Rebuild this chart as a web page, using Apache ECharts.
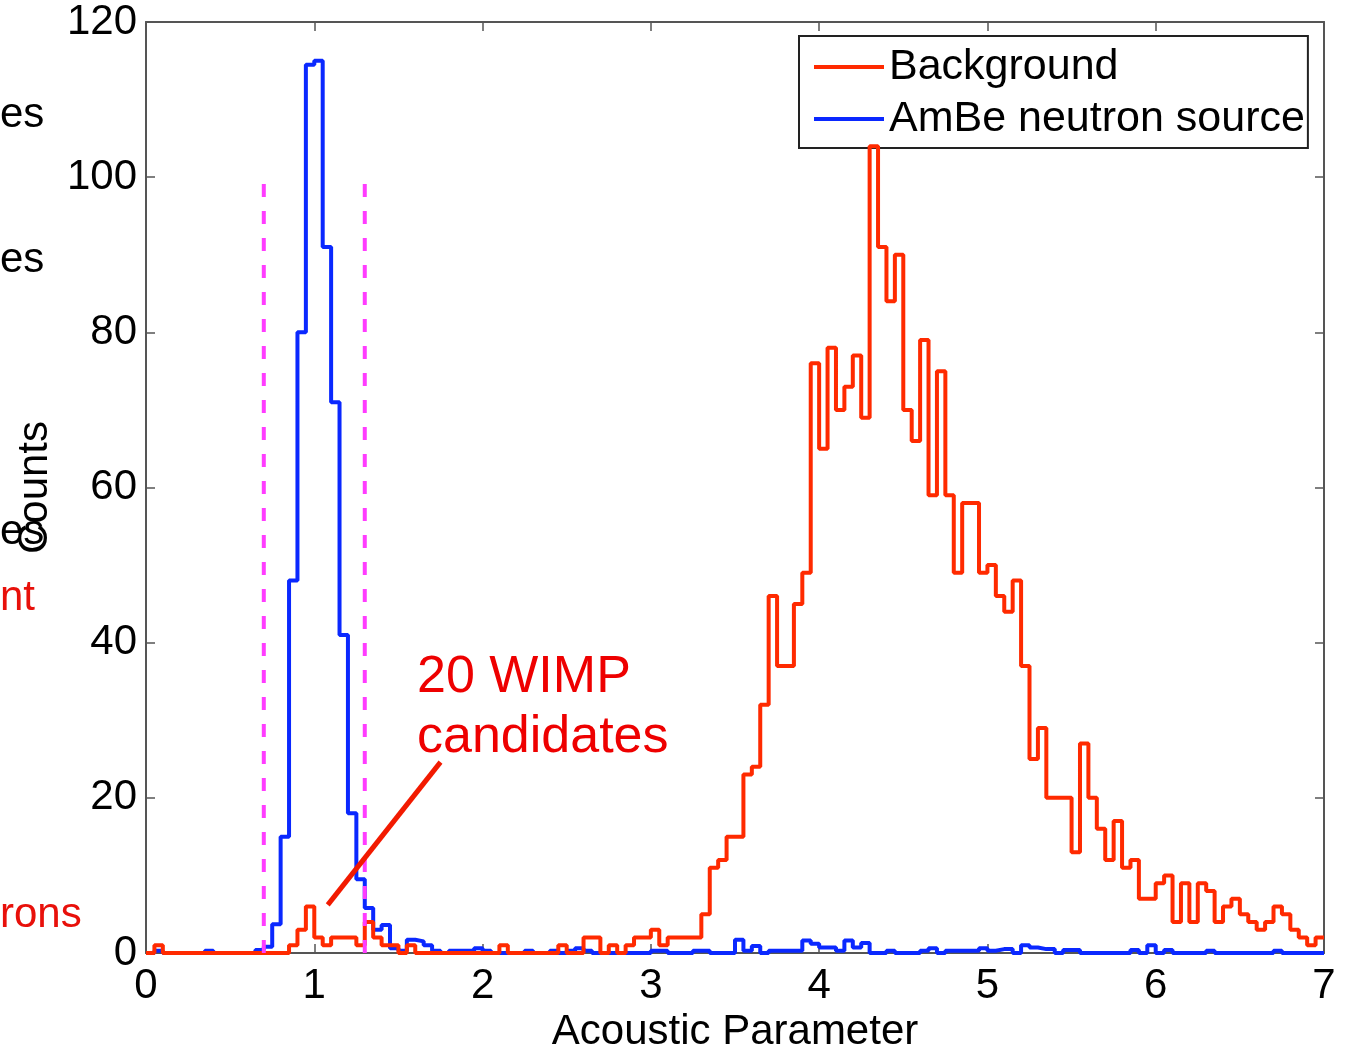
<!DOCTYPE html>
<html>
<head>
<meta charset="utf-8">
<script src="https://cdn.jsdelivr.net/npm/echarts@6/dist/echarts.min.js"></script>
<style>
html,body{margin:0;padding:0;background:#fff;}
#chart{width:1345px;height:1047px;}
</style>
</head>
<body>
<div id="chart"></div>
<script>
// ---- data ----
const binWidth = 0.05;           // histogram bin width (Acoustic Parameter)
const xTickValues = [0, 1, 2, 3, 4, 5, 6, 7];
const yTickValues = [0, 20, 40, 60, 80, 100, 120];
const seriesNames = ['Background', 'AmBe neutron source'];

// counts per bin, bins start at 0, 0.05, 0.10, ... 6.95
const background = [
  0,1,0,0,0,0,0,0,0,0,
  0,0,0,0,0,0,0,1,3,6,
  2,1,2,2,2,1,4,2,1,1,
  0,1,0,0,0,0,0,0,0,0,
  0,0,1,0,0,0,0,0,0,1,
  0,0,2,2,0,1,0,1,2,2,
  3,1,2,2,2,2,5,11,12,15,
  15,23,24,32,46,37,37,45,49,76,
  65,78,70,73,77,69,104,91,84,90,
  70,66,79,59,75,59,49,58,58,49,
  50,46,44,48,37,25,29,20,20,20,
  13,27,20,16,12,17,11,12,7,7,
  9,10,4,9,4,9,8,4,6,7,
  5,4,3,4,6,5,3,2,1,2
];
const ambe = [
  0,0.3,0,0,0,0,0,0.3,0,0,
  0,0,0,0.4,0.8,3.7,15,48,80,114.5,
  115,91,71,41,18,9.5,5.8,3,3.6,0.6,
  0.3,1.7,1.5,1,0.3,0,0.3,0.3,0.3,0.6,
  0.3,0,0,0,0,0.3,0,0,0.3,0,
  0.3,0.6,0.3,0,0,0,0,0,0,0,
  0.3,0.3,0,0,0,0.3,0.3,0,0,0,
  1.7,0.3,0.9,0,0.3,0.3,0.3,0.3,1.6,1.2,
  0.7,0.7,0.3,1.6,0.7,1.3,0,0,0.3,0,
  0,0,0.3,0.6,0,0.3,0.3,0.3,0.3,0.6,
  0.3,0.5,0.5,0,1,0.7,0.5,0.5,0,0.4,
  0.4,0,0,0,0,0,0,0.4,0,1,
  0,0.4,0,0,0,0,0.3,0,0,0,
  0,0,0,0,0.3,0,0,0,0,0
];
// acceptance cut lines (magenta, dashed)
const cutPositions = [0.7, 1.3];
const cutHeight = 100;
// callout pointer for the "20 WIMP candidates" note (data coords)
const calloutLine = [[1.75, 24.6], [1.08, 6.2]];
const annotationText = '20 WIMP\ncandidates';
const leftFragments = [
  {text: 'es', color: '#000', y: 115},
  {text: 'es', color: '#000', y: 260},
  {text: 'es', color: '#000', y: 532},
  {text: 'nt', color: '#e8100a', y: 598},
  {text: 'rons', color: '#e8100a', y: 915}
];

// ---- build ----
function stepPoints(vals) {
  const pts = vals.map((v, i) => [Math.round(i * binWidth * 100) / 100, v]);
  pts.push([xTickValues[xTickValues.length - 1], vals[vals.length - 1]]);
  return pts;
}

const FONT = '"Liberation Sans", Arial, Helvetica, sans-serif';
const RED = '#ff2a00';
const BLUE = '#0a28ff';
const AX = '#555';

const chart = echarts.init(document.getElementById('chart'), null, {renderer: 'canvas'});

const xBase = {
  type: 'value', min: xTickValues[0], max: xTickValues[xTickValues.length - 1], interval: 1,
  splitLine: {show: false},
  axisLine: {show: true, onZero: false, lineStyle: {color: AX, width: 2}},
  axisTick: {show: true, inside: true, length: 9, lineStyle: {color: AX, width: 1.5}}
};
const yBase = {
  type: 'value', min: yTickValues[0], max: yTickValues[yTickValues.length - 1], interval: 20,
  splitLine: {show: false},
  axisLine: {show: true, onZero: false, lineStyle: {color: AX, width: 2}},
  axisTick: {show: true, inside: true, length: 9, lineStyle: {color: AX, width: 1.5}}
};

const series = [];
series.push({
  name: seriesNames[1], type: 'line', step: 'end', data: stepPoints(ambe),
  symbol: 'none', z: 3, lineStyle: {color: BLUE, width: 4}, itemStyle: {color: BLUE},
  animation: false
});
series.push({
  name: seriesNames[0], type: 'line', step: 'end', data: stepPoints(background),
  symbol: 'none', z: 4, lineStyle: {color: RED, width: 4}, itemStyle: {color: RED},
  animation: false
});
cutPositions.forEach((c, i) => {
  series.push({
    name: 'cut' + i, type: 'line', data: [[c, 0], [c, cutHeight]],
    symbol: 'none', z: 5, silent: true,
    lineStyle: {color: '#ff3cff', width: 4, type: [13, 14]},
    animation: false
  });
});
series.push({
  name: 'callout', type: 'line', data: calloutLine, symbol: 'none', z: 6, silent: true,
  lineStyle: {color: '#f21a00', width: 5}, animation: false
});

const graphics = [
  {
    type: 'text', left: 417, top: 648, z: 10,
    style: {text: annotationText, font: '52px ' + FONT, fill: '#ee0000', lineHeight: 60}
  }
];
leftFragments.forEach(f => {
  graphics.push({
    type: 'text', z: 10,
    x: 0, y: f.y,
    style: {text: f.text, font: '42px ' + FONT, fill: f.color, textVerticalAlign: 'middle', textAlign: 'left'}
  });
});

chart.setOption({
  backgroundColor: '#fff',
  animation: false,
  textStyle: {fontFamily: FONT},
  grid: {left: 146, top: 22, width: 1178, height: 931, containLabel: false, outerBoundsMode: 'none'},
  legend: {
    data: seriesNames,
    orient: 'vertical', left: 799, top: 36,
    padding: [9, 3, 7, 15], itemGap: 8,
    itemWidth: 70, itemHeight: 4, itemTextGap: 11,
    backgroundColor: '#fff', borderColor: '#222', borderWidth: 2,
    textStyle: {fontSize: 43, color: '#000', fontFamily: FONT, lineHeight: 44},
    icon: 'path://M0,0 L70,0 L70,4 L0,4 Z'
  },
  xAxis: [
    Object.assign({}, xBase, {
      position: 'bottom',
      axisLabel: {show: true, fontSize: 42, color: '#000', margin: 12, fontFamily: FONT},
      name: 'Acoustic Parameter', nameLocation: 'middle', nameGap: 54,
      nameTextStyle: {fontSize: 42, color: '#000', fontFamily: FONT}
    }),
    Object.assign({}, xBase, {position: 'top', axisLabel: {show: false}})
  ],
  yAxis: [
    Object.assign({}, yBase, {
      position: 'left',
      axisLabel: {show: true, fontSize: 42, color: '#000', margin: 9, fontFamily: FONT},
      name: 'Counts', nameLocation: 'middle', nameGap: 88,
      nameTextStyle: {fontSize: 42, color: '#000', fontFamily: FONT}
    }),
    Object.assign({}, yBase, {position: 'right', axisLabel: {show: false}})
  ],
  series: series,
  graphic: graphics
});
</script>
</body>
</html>
